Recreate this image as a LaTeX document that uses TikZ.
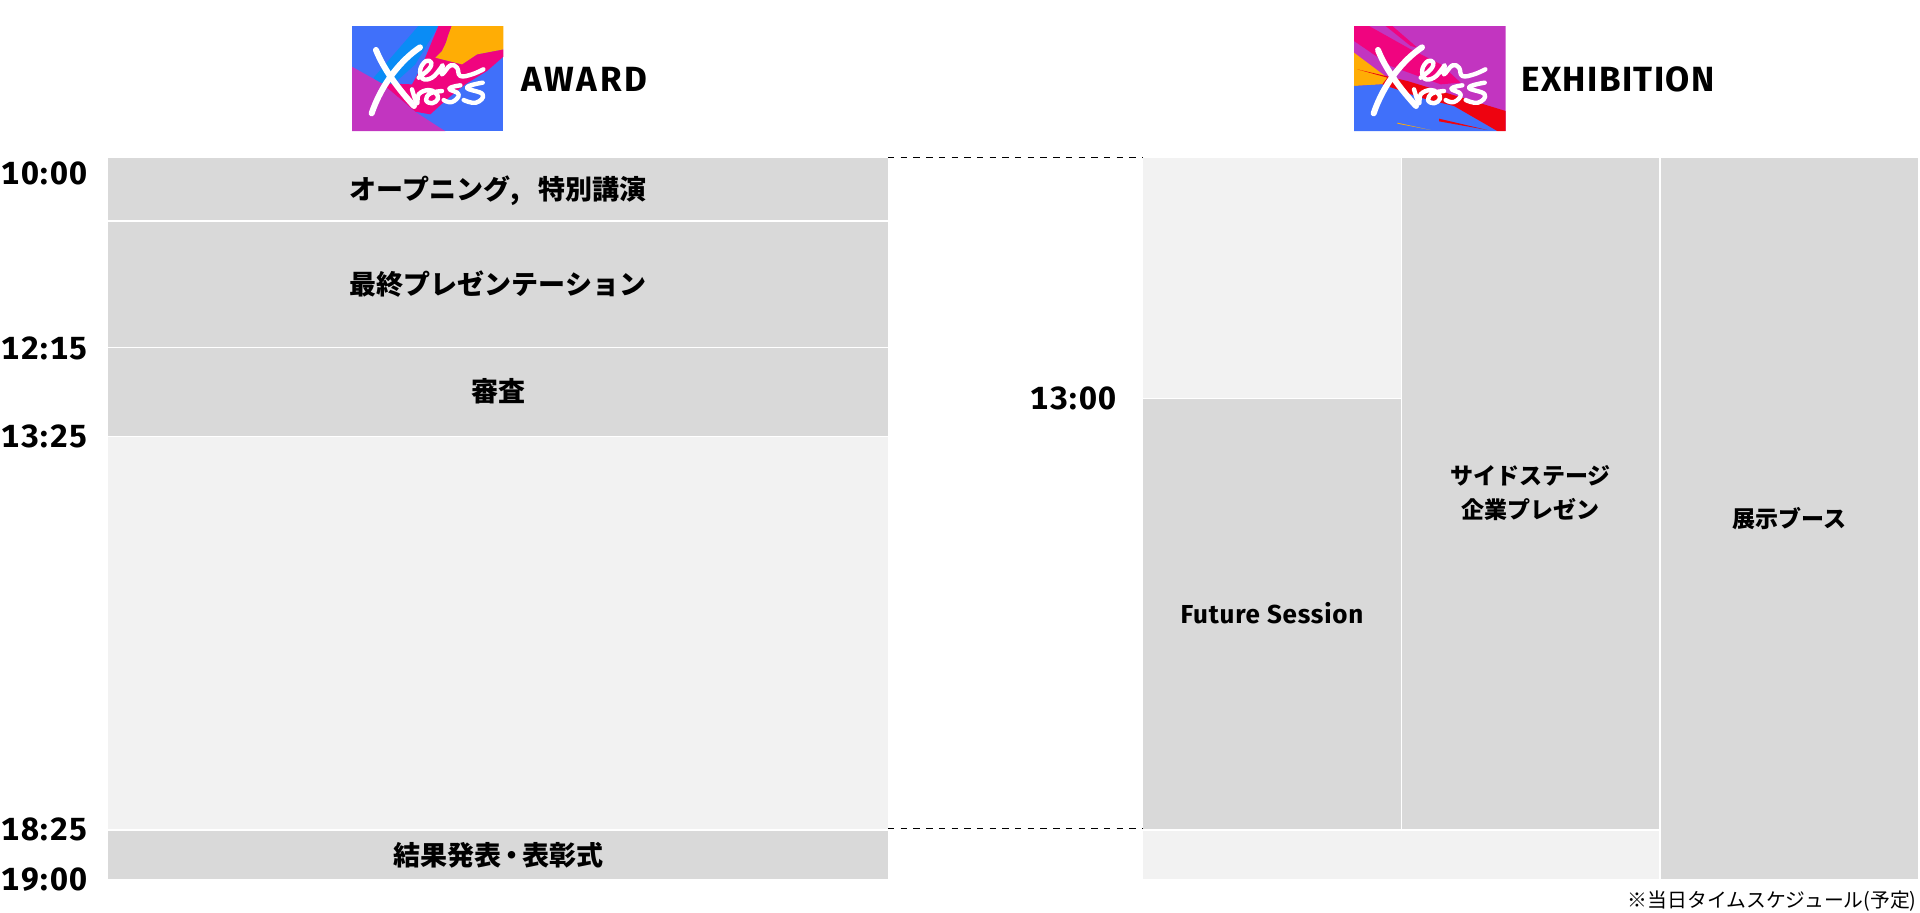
\documentclass[tikz,border=0pt]{standalone}
\usepackage{fontspec}
\setmainfont{Fira Sans}[Numbers={Monospaced,Lining}]
\newfontfamily\jpfont{Noto Sans CJK JP}
\definecolor{cellD}{HTML}{D9D9D9}
\definecolor{cellL}{HTML}{F2F2F2}
\definecolor{lgBlue}{HTML}{4070FA}
\definecolor{lgSky}{HTML}{0A8CF5}
\definecolor{lgPink}{HTML}{F0047F}
\definecolor{lgOrange}{HTML}{FFAD05}
\definecolor{lgPurple}{HTML}{C235C0}
\definecolor{lgRed}{HTML}{EE0310}
\tikzset{
  timelabel/.style={anchor=east,inner sep=0,font=\fontsize{16}{16}\selectfont\bfseries\addfontfeatures{LetterSpace=5}},
  headlabel/.style={anchor=west,inner sep=0,font=\fontsize{17.5}{17.5}\selectfont\bfseries\addfontfeatures{LetterSpace=4}},
  jplabel/.style={text=black,inner sep=0,align=center,font=\fontsize{13.5}{17}\selectfont\jpfont\bfseries},
  jpsmall/.style={text=black,inner sep=0,align=center,font=\fontsize{11.5}{17}\selectfont\jpfont\bfseries},
  latlabel/.style={text=black,inner sep=0,font=\fontsize{13}{17}\selectfont\bfseries\addfontfeatures{LetterSpace=3}},
  note/.style={anchor=east,inner sep=0,font=\fontsize{9.9}{12}\selectfont\jpfont},
  linkline/.style={draw=black,line width=0.75pt,dash pattern=on 3.2pt off 3.15pt},
  inkline/.style={draw=white,line width=2pt,line cap=round,line join=round}
}
\newcommand{\xenmark}{%
  \draw[inkline,line width=3pt] (72,72) .. controls (95,130) and (140,190) .. (186,240);
  \draw[inkline,line width=3pt] (204,64) .. controls (150,100) and (90,170) .. (59,262);
  \draw[inkline,line width=2.2pt] plot[smooth,tension=.7] coordinates {(200,155) (230,130) (238,110) (222,105) (205,130) (212,158) (240,155) (265,128) (272,118) (270,145) (295,118) (315,125) (325,150) (360,145) (394,130)};
  \draw[inkline,line width=2.2pt] plot[smooth,tension=.7] coordinates {(180,190) (195,232) (200,205) (228,192) (250,200) (258,218) (240,232) (222,222) (235,202) (270,195)};
  \draw[inkline,line width=2.2pt] plot[smooth,tension=.8] coordinates {(325,178) (292,188) (320,205) (300,228) (275,222)};
  \draw[inkline,line width=2.2pt] plot[smooth,tension=.8] coordinates {(392,170) (345,185) (392,205) (372,230) (335,222)};
}
\begin{document}
\begin{tikzpicture}[x=0.5pt,y=-0.5pt]
\useasboundingbox (0,0) rectangle (1920,912);
% AWARD logo
\begin{scope}[shift={(352,26)},x=0.16667pt,y=-0.16667pt]
  \clip (0,0) rectangle (454,315);
  \fill[lgBlue] (0,0) rectangle (454,315);
  \fill[lgSky] (199,0) -- (259,0) -- (190,115) -- (95,200) -- (65,155) -- cycle;
  \fill[lgPink] (259,0) -- (299,0) -- (288,30) -- (282,50) -- (270,75) -- (250,95) -- (330,115) -- (375,85) -- (454,70) -- (454,92) -- (405,135) -- (340,175) -- (290,215) -- (235,265) -- (189,257) -- (89,172) -- (180,175) -- (205,130) -- cycle;
  \fill[lgOrange] (299,0) -- (454,0) -- (454,70) -- (375,85) -- (330,115) -- (250,95) -- (270,75) -- (282,50) -- (288,30) -- cycle;
  \fill[lgPurple] (0,122) -- (89,172) -- (189,257) -- (274,312) -- (280,315) -- (0,315) -- cycle;
  \xenmark
\end{scope}
% EXHIBITION logo
\begin{scope}[shift={(1354,26)},x=0.16667pt,y=-0.16667pt]
  \clip (0,0) rectangle (455,315);
  \fill[lgPurple] (0,0) rectangle (455,315);
  \fill[lgPink] (0,0) -- (45,0) -- (170,70) -- (260,115) -- (320,170) -- (260,175) -- (110,120) -- (0,45) -- cycle;
  \fill[lgPink] (95,0) -- (115,0) -- (190,65) -- (170,60) -- cycle;
  \fill[lgOrange] (0,80) -- (100,155) -- (85,175) -- (0,180) -- cycle;
  \fill[lgBlue] (0,180) -- (85,175) -- (200,215) -- (300,240) -- (430,315) -- (0,315) -- cycle;
  \fill[lgRed] (10,130) -- (160,165) -- (455,255) -- (455,315) -- (430,315) -- (300,240) -- (200,215) -- (85,175) -- (100,155) -- cycle;
  \fill[lgRed] (255,278) -- (400,312) -- (255,286) -- cycle;
  \fill[lgOrange] (130,290) -- (230,312) -- (130,293) -- cycle;
  \xenmark
\end{scope}
\node[headlabel] (award) at (521,79) {\addfontfeatures{LetterSpace=7.5}AWARD};
\node[headlabel] (exhibition) at (1521,79) {EXHIBITION};
% award column
\fill[cellD] (108,158) rectangle (888,220);
\node[jplabel] (opening) at (498,190.5) {オープニング,\hspace{6pt} 特別講演};
\fill[cellD] (108,221.5) rectangle node[jplabel] (finalp) {最終プレゼンテーション} (888,346.5);
\fill[cellD] (108,348) rectangle (888,436);
\node[jplabel] (judge) at (498,391) {審査};
\fill[cellL] (108,437) rectangle (888,829);
\fill[cellD] (108,830.5) rectangle node[jplabel] (result) {結果発表\hspace{-1.5pt}・\hspace{-1.5pt}表彰式} (888,879);
% exhibition columns
\fill[cellL] (1143,158) rectangle (1400.5,397.5);
\fill[cellD] (1143,399) rectangle (1400.5,829);
\node[latlabel] (future) at (1272,613) {Future Session};
\fill[cellD] (1402,158) rectangle node[jpsmall] (side) {サイドステージ\\企業プレゼン} (1659,829);
\fill[cellL] (1143,830.5) rectangle (1659,879);
\fill[cellD] (1661,158) rectangle node[jpsmall] (booth) {展示ブース} (1918,879);
% times
\node[timelabel] (t1000) at (88,173) {10:00};
\node[timelabel] (t1215) at (88,348) {12:15};
\node[timelabel] (t1325) at (88,436.5) {13:25};
\node[timelabel] (t1825) at (88,829.5) {18:25};
\node[timelabel] (t1900) at (88,880) {19:00};
\node[timelabel] (t1300) at (1117,398) {13:00};
% dashed links
\coordinate (da) at (888,157.5);
\coordinate (db) at (1143,157.5);
\coordinate (dc) at (888,828.5);
\coordinate (dd) at (1143,828.5);
\draw[linkline] (da) -- (db);
\draw[linkline] (dc) -- (dd);
\node[note] (footnote) at (1917,901.5) {※当日タイムスケジュール(予定)};
\end{tikzpicture}
\end{document}
